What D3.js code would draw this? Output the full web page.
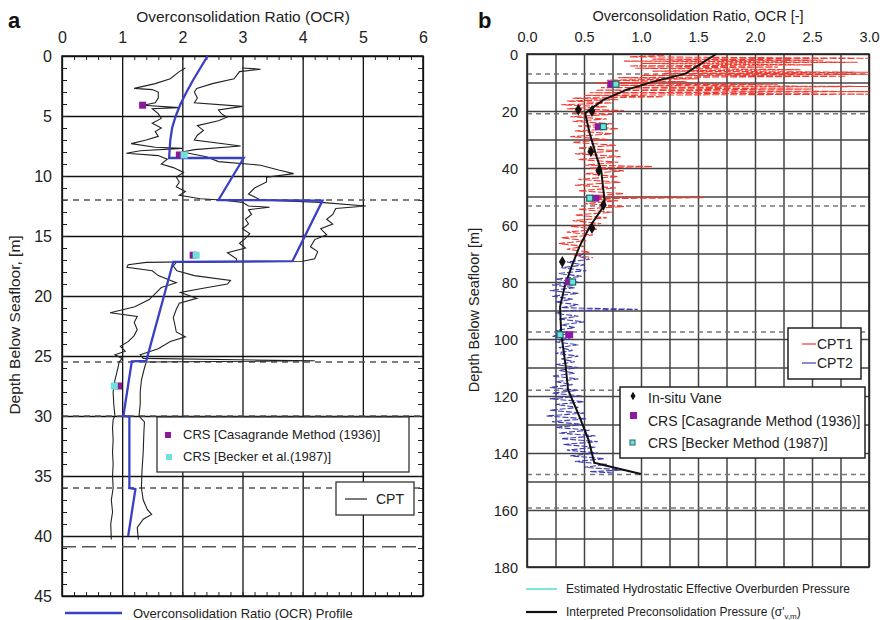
<!DOCTYPE html>
<html><head><meta charset="utf-8">
<script src="https://cdn.jsdelivr.net/npm/d3@7"></script>
<style>body{margin:0;background:#fff}svg{font-family:"Liberation Sans",Arial,sans-serif}</style>
</head><body><svg id="c" width="882" height="620"></svg>
<script>
// ---------- Panel a data ----------
const aTicksX = [0,1,2,3,4,5,6];
const aTicksY = [0,5,10,15,20,25,30,35,40,45];
const aDashDepths = [12,25.5,30,36];
const aLongDashDepths = [40.9];
// OCR profile (depth, OCR)
const ocrProfile = [[0,2.42],[1,2.3],[2,2.18],[3,2.07],[4,1.97],[5,1.89],[6,1.83],[7,1.8],[8.5,1.78],[8.5,3.02],[12,2.6],[12.05,4.33],[17.1,3.83],[17.15,1.85],[25.4,1.4],[25.45,1.16],[30,1.02],[30.05,1.12],[36,1.12],[36.1,1.22],[40,1.1]];
const cptLeft = [[1.0,2.05],[1.3,1.95],[1.9,1.8],[2.3,1.55],[2.7,1.2],[2.8,1.5],[3.0,1.6],[3.5,1.6],[3.9,1.55],[4.1,1.35],[4.3,1.95],[4.4,1.5],[4.8,1.6],[5.2,1.65],[5.6,1.5],[6.0,1.65],[6.3,1.55],[6.7,1.6],[7.0,1.4],[7.3,1.15],[7.6,1.55],[7.7,2.0],[7.9,1.3],[8.1,1.07],[8.3,1.6],[8.6,1.75],[9.0,1.65],[9.3,1.85],[9.7,2.02],[10.1,1.9],[10.5,1.95],[10.9,1.9],[11.3,2.05],[11.6,1.95],[11.9,2.3],[12.0,2.65],[12.2,3.0],[12.5,3.1],[12.6,3.45],[12.8,3.1],[13.2,3.15],[13.6,3.05],[14.0,3.1],[14.4,3.0],[14.8,3.12],[15.2,3.05],[15.6,2.95],[16.0,3.05],[16.4,2.75],[16.9,2.9],[17.1,2.9],[17.2,1.4],[17.4,1.1],[17.6,1.08],[17.9,1.5],[18.3,1.6],[18.9,1.9],[19.3,1.65],[19.8,1.55],[20.3,1.45],[20.9,1.21],[21.4,0.8],[21.7,1.25],[22.2,1.2],[22.8,1.25],[23.3,1.2],[23.8,1.1],[24.2,0.97],[24.6,1.05],[24.9,0.88],[25.2,1.0],[25.5,0.95],[26.0,0.93],[27.0,0.88],[28.0,0.85],[29.0,0.86],[30.0,0.88],[30.3,0.85],[31.0,0.84],[32.0,0.85],[33.0,0.84],[34.0,0.85],[35.0,0.84],[36.0,0.85],[37.0,0.82],[38.0,0.84],[39.0,0.81],[40.3,0.82]];
const cptRight = [[1.0,2.99],[1.1,3.3],[1.3,2.95],[1.9,2.86],[2.3,2.5],[2.7,2.24],[3.0,2.2],[3.5,2.25],[3.9,2.2],[4.2,3.0],[4.5,2.6],[4.8,2.65],[5.1,2.74],[5.4,2.6],[5.8,2.25],[6.2,2.35],[6.6,2.25],[7.0,2.2],[7.5,2.97],[7.8,2.2],[8.0,2.0],[8.4,2.4],[8.8,2.6],[9.1,3.3],[9.5,3.6],[9.8,3.85],[10.1,3.4],[10.5,3.4],[11.0,3.2],[11.5,3.1],[12.0,3.3],[12.2,4.3],[12.5,5.05],[12.7,4.55],[13.2,4.5],[13.6,4.4],[14.0,4.5],[14.4,4.3],[14.9,4.4],[15.3,4.2],[15.9,4.13],[16.3,4.25],[16.9,4.2],[17.1,4.0],[17.2,1.9],[17.5,1.85],[17.9,1.91],[18.3,2.2],[18.7,2.8],[19.0,2.75],[19.4,2.3],[19.7,1.97],[20.2,2.24],[20.6,1.95],[21.1,1.9],[21.8,1.85],[22.5,1.88],[23.0,1.9],[23.4,2.05],[23.8,1.8],[24.4,1.6],[24.9,1.3],[25.2,1.35],[25.4,4.2],[25.5,1.4],[26.0,1.37],[27.0,1.32],[28.0,1.3],[29.0,1.3],[30.0,1.28],[30.5,1.37],[31.5,1.36],[33.0,1.35],[34.5,1.33],[36.0,1.32],[37.0,1.35],[37.8,1.42],[38.2,1.49],[38.6,1.35],[39.3,1.25],[40.3,1.27]];
const aCasagrande = [[4.1,1.34],[8.25,1.95],[16.6,2.18],[27.5,0.94]];
const aBecker = [[8.25,2.03],[16.6,2.23],[27.5,0.87]];

// ---------- Panel b data ----------
const bTicksX = [0,0.5,1,1.5,2,2.5,3];
const bTicksY = [0,20,40,60,80,100,120,140,160,180];
const bDashDepths = [7,21,53.3,97.5,118,147.5,159.3];
const interpreted = [[0,1.66],[6.9,1.39],[9.7,1.11],[12.6,0.87],[16.1,0.67],[20.8,0.51],[27.8,0.55],[36,0.61],[40.7,0.65],[51.2,0.68],[53,0.68],[60.6,0.55],[67.6,0.46],[74.7,0.39],[81.7,0.33],[88.7,0.29],[98,0.3],[109.7,0.34],[117.8,0.36],[127.2,0.46],[135.4,0.54],[143.4,0.59],[144.2,0.67],[147.4,1.0]];
const vane = [[19.6,0.45],[20,0.57],[34.2,0.56],[40.9,0.63],[53,0.67],[61.1,0.57],[72.9,0.31]];
const bCasagrande = [[10.6,0.74],[25.5,0.63],[50.6,0.6],[80,0.37],[98.5,0.37]];
const bBecker = [[10.6,0.78],[25.5,0.67],[50.6,0.55],[80,0.4],[98.5,0.29]];
const cpt1 = [[0.5,1.2],[1.0,0.9],[1.5,3.0],[1.8,1.1],[2.2,2.6],[2.5,0.85],[2.9,2.9],[3.3,1.0],[3.8,2.5],[4.2,0.9],[4.6,2.2],[5.0,0.95],[5.5,2.4],[6.0,1.1],[6.4,3.0],[6.8,1.2],[7.1,3.0],[7.5,1.0],[7.8,2.8],[8.3,0.8],[8.7,1.5],[9.2,0.7],[9.7,1.4],[10.2,0.6],[10.6,2.2],[11.0,0.7],[11.4,3.0],[11.8,0.65],[12.3,2.5],[12.7,0.6],[13.2,3.0],[13.6,0.55],[14.1,3.0],[14.5,0.5],[15.0,1.2],[15.5,0.4],[16.0,0.8],[16.5,0.35],[17.2,0.75],[17.8,0.3],[18.5,0.7],[19.2,0.35],[19.8,0.85],[20.5,0.4],[21.2,0.75],[22.0,0.38],[22.8,0.7],[23.6,0.4],[24.5,0.75],[25.3,0.45],[26.2,0.8],[27.0,0.42],[28.0,0.75],[29.0,0.38],[30.0,0.72],[31.0,0.4],[32.0,0.78],[33.0,0.45],[34.0,0.8],[35.0,0.42],[36.0,0.82],[37.0,0.45],[38.0,0.8],[39.0,0.5],[39.5,1.1],[40.0,0.55],[41.0,0.85],[42.0,0.5],[43.0,0.8],[44.0,0.45],[45.0,0.82],[46.0,0.42],[47.0,0.78],[48.0,0.45],[49.0,0.85],[50.0,0.5],[50.4,1.55],[50.8,0.55],[51.5,0.8],[52.5,0.5],[53.5,0.85],[54.5,0.45],[55.5,0.75],[56.5,0.42],[57.5,0.7],[58.5,0.4],[59.5,0.65],[60.5,0.38],[61.5,0.62],[62.5,0.35],[63.5,0.58],[64.5,0.3],[65.5,0.52],[66.5,0.28],[67.5,0.5],[68.5,0.35],[69.5,0.55],[70.5,0.4],[71.5,0.58]];
const cpt2 = [[70,0.5],[71,0.45],[72,0.55],[73,0.35],[74,0.5],[75,0.3],[76,0.52],[77,0.28],[78,0.48],[79,0.25],[80,0.45],[81,0.22],[82,0.42],[83,0.2],[84,0.45],[85,0.22],[86,0.4],[87,0.25],[88,0.45],[89,0.3],[89.6,0.97],[90,0.35],[91,0.25],[92,0.45],[93,0.28],[94,0.5],[95,0.3],[96,0.42],[97,0.25],[98,0.4],[99,0.22],[100,0.38],[101,0.25],[102,0.45],[103,0.28],[104,0.4],[105,0.25],[106,0.45],[107,0.3],[108,0.42],[109,0.25],[110,0.45],[111,0.28],[112,0.42],[113,0.22],[114,0.45],[115,0.25],[116,0.4],[117,0.2],[118,0.45],[119,0.22],[120,0.48],[121,0.2],[122,0.5],[123,0.25],[124,0.45],[125,0.2],[126,0.5],[127,0.17],[128,0.52],[129,0.22],[130,0.5],[131,0.25],[132,0.55],[133,0.28],[134,0.6],[135,0.3],[136,0.62],[137,0.32],[138,0.6],[139,0.35],[140,0.62],[141,0.38],[142,0.68],[143,0.42],[144,0.7],[145,0.5],[146,0.85],[146.5,0.55],[147,0.75]];

const svg = d3.select("#c");

// ===== Panel a =====
const xa = d3.scaleLinear([0,6],[62,423]);
const ya = d3.scaleLinear([0,45],[56,596]);
const ga = svg.append("g");
ga.append("g").attr("transform",`translate(0,${ya(45)})`).call(d3.axisBottom(xa).tickValues(aTicksX).tickSize(-(ya(45)-ya(0))).tickFormat(""))
  .call(g=>{g.select(".domain").remove();g.selectAll("line").attr("stroke","#111").attr("stroke-width",1.3);});
ga.append("g").attr("transform",`translate(${xa(0)},0)`).call(d3.axisLeft(ya).tickValues(aTicksY).tickSize(-(xa(6)-xa(0))).tickFormat(""))
  .call(g=>{g.select(".domain").remove();g.selectAll("line").attr("stroke","#111").attr("stroke-width",1.3);});
const aMinX = d3.range(0,6.001,0.2), aMinY = d3.range(0,45.001,1);
ga.append("g").attr("transform",`translate(0,${ya(0)})`).call(d3.axisBottom(xa).tickValues(aMinX).tickSize(4).tickFormat("")).call(g=>{g.select(".domain").remove();g.selectAll("line").attr("stroke","#222");});
ga.append("g").attr("transform",`translate(0,${ya(45)})`).call(d3.axisTop(xa).tickValues(aMinX).tickSize(4).tickFormat("")).call(g=>{g.select(".domain").remove();g.selectAll("line").attr("stroke","#222");});
ga.append("g").attr("transform",`translate(${xa(0)},0)`).call(d3.axisRight(ya).tickValues(aMinY).tickSize(5).tickFormat("")).call(g=>{g.select(".domain").remove();g.selectAll("line").attr("stroke","#222");});
ga.append("g").attr("transform",`translate(${xa(6)},0)`).call(d3.axisLeft(ya).tickValues(aMinY).tickSize(5).tickFormat("")).call(g=>{g.select(".domain").remove();g.selectAll("line").attr("stroke","#222");});
ga.selectAll(".dsh").data(aDashDepths).join("line").attr("x1",xa(0)).attr("x2",xa(6)).attr("y1",d=>ya(d)).attr("y2",d=>ya(d))
  .attr("stroke","#555").attr("stroke-width",1.5).attr("stroke-dasharray","6,5");
ga.selectAll(".ldsh").data(aLongDashDepths).join("line").attr("x1",xa(0)).attr("x2",xa(6)).attr("y1",d=>ya(d)).attr("y2",d=>ya(d))
  .attr("stroke","#555").attr("stroke-width",1.5).attr("stroke-dasharray","14,6");
ga.append("rect").attr("x",xa(0)).attr("y",ya(0)).attr("width",xa(6)-xa(0)).attr("height",ya(45)-ya(0)).attr("fill","none").attr("stroke","#111").attr("stroke-width",1.5);
ga.append("g").attr("transform",`translate(0,${ya(0)-10})`).call(d3.axisTop(xa).tickValues(aTicksX).tickSize(0).tickFormat(d3.format("d")))
  .call(g=>{g.select(".domain").remove();g.selectAll("text").attr("font-size",16).attr("fill","#222").attr("font-family","Liberation Sans, Arial");});
ga.append("g").attr("transform",`translate(${xa(0)-7},0)`).call(d3.axisLeft(ya).tickValues(aTicksY).tickSize(0).tickFormat(d3.format("d")))
  .call(g=>{g.select(".domain").remove();g.selectAll("text").attr("font-size",16).attr("fill","#222").attr("font-family","Liberation Sans, Arial").attr("dy","0.35em");});
svg.append("text").attr("x",243).attr("y",22).attr("text-anchor","middle").attr("font-size",15.5).attr("fill","#222").text("Overconsolidation Ratio (OCR)");
svg.append("text").attr("x",8).attr("y",28).attr("font-size",22).attr("font-weight","bold").attr("fill","#111").text("a");
svg.append("text").attr("transform","translate(20,325) rotate(-90)").attr("text-anchor","middle").attr("font-size",15.5).attr("fill","#222").text("Depth Below Seafloor, [m]");
const lineA = d3.line().x(d=>xa(d[1])).y(d=>ya(d[0]));
ga.append("path").attr("d",lineA(cptLeft)).attr("fill","none").attr("stroke","#222").attr("stroke-width",1.1);
ga.append("path").attr("d",lineA(cptRight)).attr("fill","none").attr("stroke","#222").attr("stroke-width",1.1);
ga.append("path").attr("d",lineA(ocrProfile)).attr("fill","none").attr("stroke","#3a40c4").attr("stroke-width",2.3);
ga.selectAll(".ac").data(aCasagrande).join("rect").attr("x",d=>xa(d[1])-3.5).attr("y",d=>ya(d[0])-3.5).attr("width",7).attr("height",7).attr("fill","#8a1a96");
ga.selectAll(".ab").data(aBecker).join("rect").attr("x",d=>xa(d[1])-3.5).attr("y",d=>ya(d[0])-3.5).attr("width",7).attr("height",7).attr("fill","#6fe0dc");
svg.append("rect").attr("x",157).attr("y",417).attr("width",252).attr("height",55).attr("fill","#fff").attr("stroke","#333").attr("stroke-width",1.3);
svg.append("rect").attr("x",165).attr("y",432).attr("width",6).attr("height",6).attr("fill","#8a1a96");
svg.append("text").attr("x",183).attr("y",439).attr("font-size",13).attr("fill","#222").text("CRS [Casagrande Method (1936)]");
svg.append("rect").attr("x",166).attr("y",454).attr("width",6).attr("height",6).attr("fill","#6fe0dc");
svg.append("text").attr("x",183).attr("y",461).attr("font-size",13).attr("fill","#222").text("CRS [Becker et al.(1987)]");
svg.append("rect").attr("x",336).attr("y",482).attr("width",78).attr("height",33).attr("fill","#fff").attr("stroke","#333").attr("stroke-width",1.3);
svg.append("line").attr("x1",345).attr("x2",367).attr("y1",499).attr("y2",499).attr("stroke","#222").attr("stroke-width",1.2);
svg.append("text").attr("x",376).attr("y",504).attr("font-size",14).attr("fill","#222").text("CPT");
svg.append("line").attr("x1",65).attr("x2",122).attr("y1",613).attr("y2",613).attr("stroke","#3a40c4").attr("stroke-width",2.5);
svg.append("text").attr("x",133).attr("y",618).attr("font-size",13).attr("fill","#222").text("Overconsolidation Ratio (OCR) Profile");

// ===== Panel b =====
const xb = d3.scaleLinear([0,3],[527,869]);
const yb = d3.scaleLinear([0,180],[54,567]);
const gb = svg.append("g");
gb.append("g").attr("transform",`translate(0,${yb(180)})`).call(d3.axisBottom(xb).tickValues(d3.range(0,3.001,0.25)).tickSize(-(yb(180)-yb(0))).tickFormat(""))
  .call(g=>{g.select(".domain").remove();g.selectAll("line").attr("stroke","#444").attr("stroke-width",1.5);});
gb.append("g").attr("transform",`translate(${xb(0)},0)`).call(d3.axisLeft(yb).tickValues(d3.range(0,180.001,10)).tickSize(-(xb(3)-xb(0))).tickFormat(""))
  .call(g=>{g.select(".domain").remove();g.selectAll("line").attr("stroke","#444").attr("stroke-width",1.5);});
gb.selectAll(".dsh").data(bDashDepths).join("line").attr("x1",xb(0)).attr("x2",xb(3)).attr("y1",d=>yb(d)).attr("y2",d=>yb(d))
  .attr("stroke","#777").attr("stroke-width",1.5).attr("stroke-dasharray","5,4");
gb.append("rect").attr("x",xb(0)).attr("y",yb(0)).attr("width",xb(3)-xb(0)).attr("height",yb(180)-yb(0)).attr("fill","none").attr("stroke","#222").attr("stroke-width",1.6);
gb.append("g").attr("transform",`translate(0,${yb(0)-9})`).call(d3.axisTop(xb).tickValues(bTicksX).tickSize(0).tickFormat(d3.format(".1f")))
  .call(g=>{g.select(".domain").remove();g.selectAll("text").attr("font-size",14.5).attr("fill","#222").attr("font-family","Liberation Sans, Arial");});
gb.append("g").attr("transform",`translate(${xb(0)-6},0)`).call(d3.axisLeft(yb).tickValues(bTicksY).tickSize(0).tickFormat(d3.format("d")))
  .call(g=>{g.select(".domain").remove();g.selectAll("text").attr("font-size",14.5).attr("fill","#222").attr("font-family","Liberation Sans, Arial").attr("dy","0.35em");});
svg.append("text").attr("x",698).attr("y",21).attr("text-anchor","middle").attr("font-size",14.5).attr("fill","#222").text("Overconsolidation Ratio, OCR [-]");
svg.append("text").attr("x",478).attr("y",28).attr("font-size",22).attr("font-weight","bold").attr("fill","#111").text("b");
svg.append("text").attr("transform","translate(479,310) rotate(-90)").attr("text-anchor","middle").attr("font-size",14.5).attr("fill","#222").text("Depth Below Seafloor [m]");
const lineB = d3.line().x(d=>xb(d[1])).y(d=>yb(d[0]));
svg.append("clipPath").attr("id","cb").append("rect").attr("x",xb(0)).attr("y",yb(0)).attr("width",xb(3)-xb(0)).attr("height",yb(180)-yb(0));
gb.append("path").attr("d",lineB(cpt1)).attr("clip-path","url(#cb)").attr("fill","none").attr("stroke","#ee3b30").attr("stroke-width",1.1).attr("stroke-dasharray","7,2");
gb.append("path").attr("d",lineB(cpt2)).attr("fill","none").attr("stroke","#3c3cb0").attr("stroke-width",1.1).attr("stroke-dasharray","6,2");
gb.append("path").attr("d",lineB(interpreted)).attr("fill","none").attr("stroke","#111").attr("stroke-width",2);
const diamond = d3.symbol().type(d3.symbolDiamond).size(40);
gb.selectAll(".vn").data(vane).join("path").attr("d",diamond).attr("transform",d=>`translate(${xb(d[1])},${yb(d[0])})`).attr("fill","#111");
gb.selectAll(".bc").data(bCasagrande).join("rect").attr("x",d=>xb(d[1])-4).attr("y",d=>yb(d[0])-3.5).attr("width",8).attr("height",7).attr("fill","#8a1aa6");
gb.selectAll(".bb").data(bBecker).join("rect").attr("x",d=>xb(d[1])-3).attr("y",d=>yb(d[0])-3).attr("width",6).attr("height",6).attr("fill","#6fe0dc").attr("stroke","#1d6b66").attr("stroke-width",1.2);
svg.append("rect").attr("x",788).attr("y",328).attr("width",73).attr("height",51).attr("fill","#fff").attr("stroke","#222").attr("stroke-width",1.5);
svg.append("line").attr("x1",802).attr("x2",816).attr("y1",344).attr("y2",344).attr("stroke","#ee3b30").attr("stroke-width",1.2);
svg.append("text").attr("x",817).attr("y",349).attr("font-size",14).attr("fill","#222").text("CPT1");
svg.append("line").attr("x1",802).attr("x2",816).attr("y1",363).attr("y2",363).attr("stroke","#3c3cb0").attr("stroke-width",1.2);
svg.append("text").attr("x",817).attr("y",368).attr("font-size",14).attr("fill","#222").text("CPT2");
svg.append("rect").attr("x",620).attr("y",387).attr("width",245).attr("height",71).attr("fill","#fff").attr("stroke","#222").attr("stroke-width",1.5);
svg.append("path").attr("d",d3.symbol().type(d3.symbolDiamond).size(22)).attr("transform","translate(633,396)").attr("fill","#111");
svg.append("text").attr("x",648).attr("y",403).attr("font-size",14).attr("fill","#222").text("In-situ Vane");
svg.append("rect").attr("x",630).attr("y",412).attr("width",7).attr("height",7).attr("fill","#8a1aa6");
svg.append("text").attr("x",648).attr("y",426).attr("font-size",14).attr("fill","#222").text("CRS [Casagrande Method (1936)]");
svg.append("rect").attr("x",630).attr("y",440).attr("width",5).attr("height",5).attr("fill","#6fe0dc").attr("stroke","#1d6b66").attr("stroke-width",1);
svg.append("text").attr("x",648).attr("y",448).attr("font-size",14).attr("fill","#222").text("CRS [Becker Method (1987)]");
svg.append("line").attr("x1",526).attr("x2",557).attr("y1",589).attr("y2",589).attr("stroke","#7de6e0").attr("stroke-width",2);
svg.append("text").attr("x",566).attr("y",593).attr("font-size",12).attr("fill","#222").text("Estimated Hydrostatic Effective Overburden Pressure");
svg.append("line").attr("x1",526).attr("x2",557).attr("y1",612).attr("y2",612).attr("stroke","#111").attr("stroke-width",2.2);
const t2 = svg.append("text").attr("x",566).attr("y",616).attr("font-size",12).attr("fill","#222");
t2.append("tspan").text("Interpreted Preconsolidation Pressure (σ'");
t2.append("tspan").attr("font-size",8).attr("dy",3).text("v,m");
t2.append("tspan").attr("dy",-3).text(")");
</script></body></html>
